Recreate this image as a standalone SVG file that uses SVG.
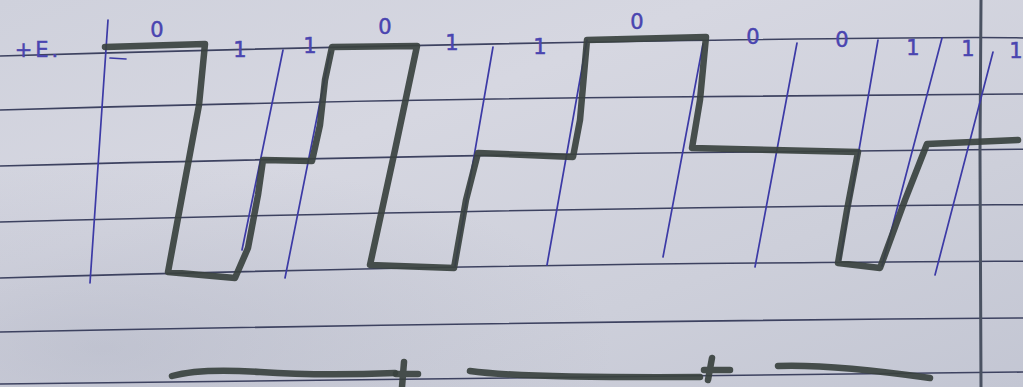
<svg xmlns="http://www.w3.org/2000/svg" width="1023" height="387" viewBox="0 0 1023 387">
<defs>
<linearGradient id="paper" x1="0" y1="0" x2="1" y2="1">
<stop offset="0" stop-color="#cfd1dc"/>
<stop offset="0.35" stop-color="#d6d7e1"/>
<stop offset="0.7" stop-color="#cdcfda"/>
<stop offset="1" stop-color="#c3c6d3"/>
</linearGradient>
<radialGradient id="shade" cx="0.1" cy="0.9" r="0.5">
<stop offset="0" stop-color="#9ea3b6" stop-opacity="0.35"/>
<stop offset="1" stop-color="#9ea3b6" stop-opacity="0"/>
</radialGradient>
</defs>
<style>
.rule{fill:none;stroke:#3d4260;stroke-width:1.6}
.margin{fill:none;stroke:#4a5262;stroke-width:3}
.pen{fill:none;stroke:#3c3aa6;stroke-width:1.7;stroke-linecap:round}
.wave{fill:none;stroke:#39423f;stroke-width:6.5;stroke-linejoin:round;stroke-linecap:round;opacity:0.92}
.lbl{font-family:"DejaVu Sans","Liberation Sans",sans-serif;fill:#4a45b0;stroke:#4a45b0;stroke-width:0.5;font-size:21px;text-anchor:middle}
</style>
<rect width="1023" height="387" fill="url(#paper)"/>
<rect width="1023" height="387" fill="url(#shade)"/>
<g id="rules">
<path class="rule" d="M0 56 Q340 46 660 41 T1023 38"/>
<path class="rule" d="M0 110 Q340 100 660 97 T1023 94"/>
<path class="rule" d="M0 166 Q420 155 760 152 T1023 149"/>
<path class="rule" d="M0 222 Q420 211 760 207 T1023 206"/>
<path class="rule" d="M0 278 Q420 266 760 263 T1023 262"/>
<path class="rule" d="M0 332 Q500 322 1023 318"/>
<path class="rule" d="M0 384 Q500 376 1023 372"/>
<path class="margin" d="M981 0 L980 150 L981 387"/>
</g>
<g id="clock-lines">
<path class="pen" d="M108 20 L90 283"/>
<path class="pen" d="M110 58 L126 59"/>
<path class="pen" d="M283 50 L242 250"/>
<path class="pen" d="M330 52 L285 278"/>
<path class="pen" d="M493 47 L455 266"/>
<path class="pen" d="M587 40 L547 265"/>
<path class="pen" d="M703 44 L663 257"/>
<path class="pen" d="M797 43 L755 267"/>
<path class="pen" d="M878 40 L840 260"/>
<path class="pen" d="M942 38 L882 266"/>
<path class="pen" d="M993 52 L935 275"/>
</g>
<g id="waveform">
<path class="wave" d="M105 47 L205 44 L199 105 L168 272 L235 278 L248 248 L258 195 L263 160 L312 161 L320 125 L325 80 L332 47 L417 46 L395 150 L370 265 L454 268 L466 200 L478 153 L573 157 L580 120 L587 40 L706 37 L700 100 L692 148 L858 152 L847 210 L838 263 L880 268 L905 200 L927 144 L1018 140"/>
</g>
<g id="labels">
<text class="lbl" x="38" y="57" font-size="24" letter-spacing="3">+E.</text>
<text class="lbl" x="157" y="37">0</text>
<text class="lbl" x="240" y="57">1</text>
<text class="lbl" x="310" y="53">1</text>
<text class="lbl" x="385" y="34">0</text>
<text class="lbl" x="452" y="50">1</text>
<text class="lbl" x="540" y="54">1</text>
<text class="lbl" x="637" y="29">0</text>
<text class="lbl" x="753" y="44">0</text>
<text class="lbl" x="842" y="47">0</text>
<text class="lbl" x="913" y="55">1</text>
<text class="lbl" x="968" y="56">1</text>
<text class="lbl" x="1016" y="58">1</text>
</g>
<g id="bottom-marks">
<path class="wave" d="M172 376 Q200 368 260 372 Q320 376 395 373"/>
<path class="wave" d="M404 362 L402 387 M396 374 L418 374"/>
<path class="wave" d="M470 371 Q520 378 700 377"/>
<path class="wave" d="M712 358 L708 380 M704 370 L730 370"/>
<path class="wave" d="M778 366 Q830 364 930 378"/>
</g>
</svg>
